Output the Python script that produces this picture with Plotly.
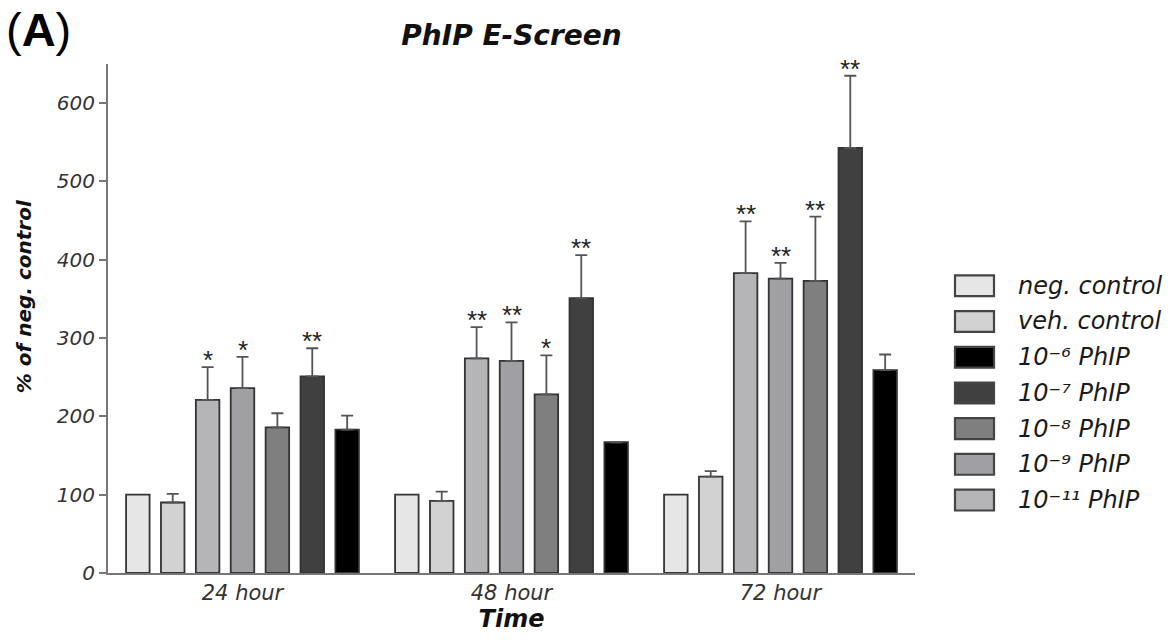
import plotly.graph_objects as go

# ---------------- data ----------------
groups = ["24 hour", "48 hour", "72 hour"]

# bar order inside each group (left -> right)
series_names = ["neg. control", "veh. control", "10⁻¹¹ PhIP",
                "10⁻⁹ PhIP", "10⁻⁸ PhIP",
                "10⁻⁷ PhIP", "10⁻⁶ PhIP"]

neg_control = [100, 100, 100]
neg_control_err = [0, 0, 0]
veh_control = [90, 92, 123]
veh_control_err = [11, 12, 7]
phip_1e11 = [221, 274, 383]
phip_1e11_err = [42, 40, 66]
phip_1e9 = [236, 271, 376]
phip_1e9_err = [40, 49, 20]
phip_1e8 = [186, 228, 373]
phip_1e8_err = [18, 50, 82]
phip_1e7 = [251, 351, 543]
phip_1e7_err = [36, 55, 92]
phip_1e6 = [183, 167, 259]
phip_1e6_err = [18, 0, 20]

sig_neg = ["", "", ""]
sig_veh = ["", "", ""]
sig_1e11 = ["*", "**", "**"]
sig_1e9 = ["*", "**", "**"]
sig_1e8 = ["", "*", "**"]
sig_1e7 = ["**", "**", "**"]
sig_1e6 = ["", "", ""]

legend_order = ["neg. control", "veh. control", "10⁻⁶ PhIP",
                "10⁻⁷ PhIP", "10⁻⁸ PhIP",
                "10⁻⁹ PhIP", "10⁻¹¹ PhIP"]

y_ticks = [0, 100, 200, 300, 400, 500, 600]

# ---------------- styling ----------------
values = [neg_control, veh_control, phip_1e11, phip_1e9, phip_1e8, phip_1e7, phip_1e6]
errors = [neg_control_err, veh_control_err, phip_1e11_err, phip_1e9_err,
          phip_1e8_err, phip_1e7_err, phip_1e6_err]
sigs = [sig_neg, sig_veh, sig_1e11, sig_1e9, sig_1e8, sig_1e7, sig_1e6]
colors = ["#e6e6e6", "#d2d2d2", "#b5b5b7", "#a0a0a4", "#7f7f7f", "#404040", "#000000"]
color_of = dict(zip(series_names, colors))

SLOT = 0.1297
BARW = 0.0874
x_idx = list(range(len(groups)))

FONT = "DejaVu Sans"
fig = go.Figure()
annotations = []

for k, (name, vals, errs, sg, col) in enumerate(zip(series_names, values, errors, sigs, colors)):
    off = (k - 3) * SLOT
    fig.add_trace(go.Bar(
        x=x_idx, y=vals, name=name,
        offset=off - BARW / 2, width=BARW,
        marker=dict(color=col, line=dict(color="#333333", width=1.8)),
        error_y=dict(type="data", array=errs, symmetric=False, arrayminus=[0] * len(errs),
                     visible=any(e > 0 for e in errs),
                     color="#555555", thickness=1.8, width=6),
        showlegend=False,
    ))
    for gi, (v, e, s) in enumerate(zip(vals, errs, sg)):
        if s:
            annotations.append(dict(
                x=gi + off, y=v + e, xref="x", yref="y", text=s, showarrow=False,
                yanchor="bottom", yshift=-10,
                font=dict(family="Liberation Sans", size=26, color="#222222")))

# ---------------- custom legend ----------------
L, R, T, B = 108, 915, 64, 577
PW, PH = R - L, B - T


def px_x(px):
    return (px - L) / PW


def px_y(py):
    return (B - py) / PH


shapes = []
leg_y0, leg_dy = 287.5, 36
for i, name in enumerate(legend_order):
    cy = leg_y0 + i * leg_dy
    shapes.append(dict(type="rect", xref="paper", yref="paper",
                       x0=px_x(955), x1=px_x(994), y0=px_y(cy + 10.5), y1=px_y(cy - 10.5),
                       fillcolor=color_of[name], line=dict(color="#444444", width=2.2)))
    annotations.append(dict(x=px_x(1016), y=px_y(cy), xref="paper", yref="paper",
                            xanchor="left", yanchor="middle", text=name, showarrow=False,
                            font=dict(family=FONT, size=24, color="#1a1a1a", style="italic")))

# titles
annotations.append(dict(x=px_x(4), y=px_y(1), xref="paper", yref="paper",
                        xanchor="left", yanchor="top", text="(<b>A</b>)", showarrow=False,
                        font=dict(family="Liberation Sans", size=47, color="#000000")))
annotations.append(dict(x=px_x(24), y=px_y(298), xref="paper", yref="paper",
                        xanchor="center", yanchor="middle", textangle=-90,
                        text="% of neg. control", showarrow=False,
                        font=dict(family=FONT, size=20, color="#111111",
                                  weight="bold", style="italic")))

fig.update_layout(
    width=1176, height=640,
    margin=dict(l=L, r=1176 - R, t=T, b=640 - B),
    paper_bgcolor="white", plot_bgcolor="white",
    barmode="overlay",
    title=dict(text="PhIP E-Screen", x=0.5, xref="paper",
               y=1 - 35 / 640, yanchor="middle",
               font=dict(family=FONT, size=28, color="#111111",
                         weight="bold", style="italic")),
    xaxis=dict(range=[-0.5, 2.5], tickmode="array", tickvals=x_idx,
               ticktext=groups,
               showgrid=False, zeroline=False, showline=True,
               linecolor="#777777", linewidth=2, ticks="",
               tickfont=dict(family=FONT, size=21, color="#333333", style="italic"),
               title=dict(text="Time", standoff=6,
                          font=dict(family=FONT, size=24, color="#111111",
                                    weight="bold", style="italic"))),
    yaxis=dict(range=[0, 650], tickmode="array", tickvals=y_ticks,
               ticktext=[str(t) for t in y_ticks],
               showgrid=False, zeroline=False, showline=True,
               linecolor="#777777", linewidth=2, ticks="outside", ticklen=7,
               tickwidth=2, tickcolor="#777777",
               tickfont=dict(family=FONT, size=20, color="#333333", style="italic")),
    shapes=shapes,
    annotations=annotations,
)

fig.write_html("out.html")
